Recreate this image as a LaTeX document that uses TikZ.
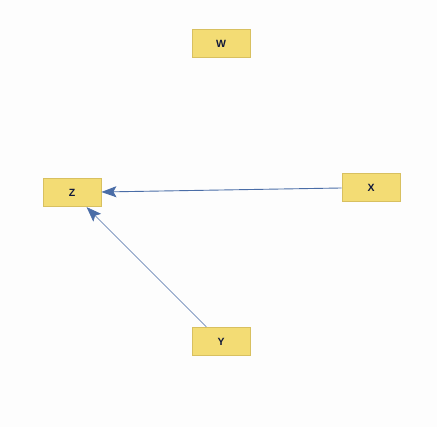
\documentclass[tikz,border=0pt]{standalone}
\usepackage{fontspec}
\setmainfont{Liberation Sans}
\usetikzlibrary{arrows.meta}
\definecolor{boxfill}{HTML}{F3DC74}
\definecolor{boxline}{HTML}{D8C060}
\definecolor{edgecol}{HTML}{4A6DA7}
\definecolor{txtcol}{HTML}{10183A}
\definecolor{bgcol}{HTML}{FDFDFD}
\begin{document}
\begin{tikzpicture}[x=1pt,y=-1pt,
  varbox/.style={draw=boxline, fill=boxfill, line width=0.8pt, minimum width=58pt, minimum height=28.5pt, inner sep=0pt, text=txtcol, font=\fontsize{10.5}{12}\selectfont\bfseries},
  edge/.style={draw=edgecol, line width=0.9pt, -{Stealth[length=15pt,width=11pt,inset=3pt]}}]
\fill[bgcol] (0,0) rectangle (437,427);
\useasboundingbox (0,0) rectangle (437,427);
\node[varbox] (W) at (221,43.5) {W};
\node[varbox] (Z) at (72,192.5) {Z};
\node[varbox] (X) at (371,187.5) {X};
\node[varbox] (Y) at (221,341.5) {Y};
\draw[edge] (X) -- (Z);
\draw[edge, line width=0.6pt] (Y) -- (Z);
\end{tikzpicture}
\end{document}
